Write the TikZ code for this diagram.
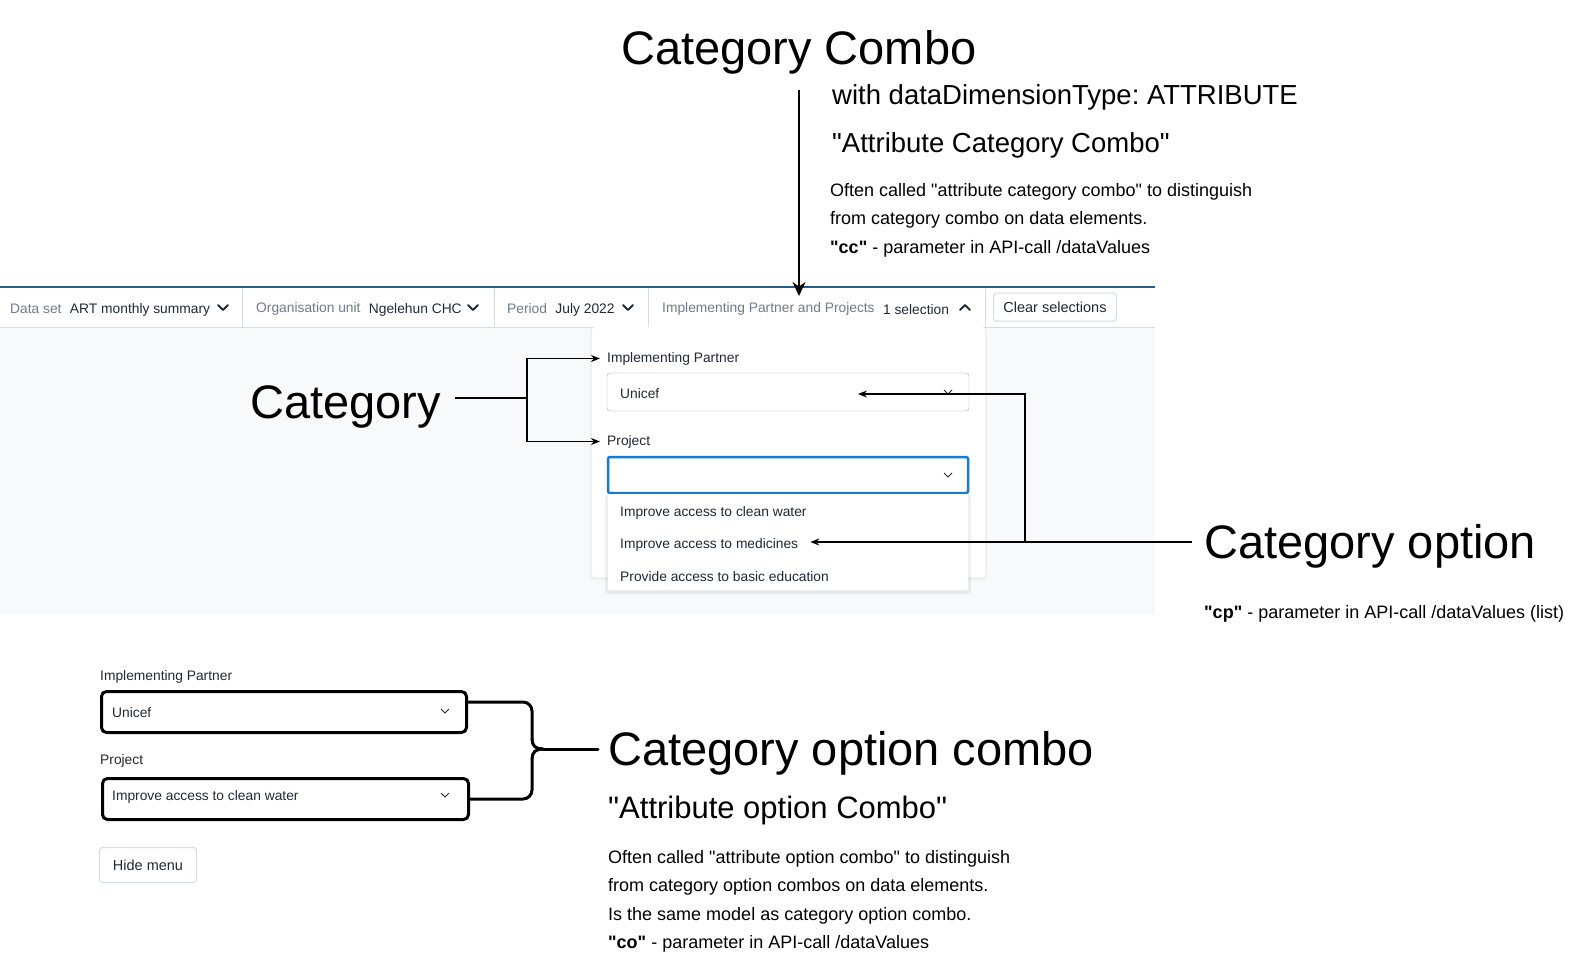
\documentclass[tikz,border=0pt]{standalone}
\usepackage{fontspec}
\setmainfont{Liberation Sans}[Ligatures=TeXOff]
\usetikzlibrary{positioning}
\usetikzlibrary{arrows.meta}
\definecolor{barblue}{RGB}{40,92,138}
\definecolor{uigrey}{RGB}{110,122,138}
\definecolor{uitext}{RGB}{33,41,52}
\definecolor{linegrey}{RGB}{214,220,228}
\definecolor{bggrey}{RGB}{248,249,250}
\definecolor{focusblue}{RGB}{20,124,215}
\definecolor{inputgrey}{RGB}{160,173,186}
\frenchspacing

\begin{document}
\begin{tikzpicture}[x=1pt,y=-1pt,>={Stealth[length=9pt,width=7pt]},
  title/.style={font=\fontsize{47}{50}\selectfont,anchor=west,inner sep=0pt,yshift=-4pt},
  subtitle/.style={font=\fontsize{27.5}{30}\selectfont,anchor=west,inner sep=0pt,yshift=-2pt},
  note/.style={font=\fontsize{18}{21}\selectfont,anchor=west,inner sep=0pt,yshift=-2pt},
  ui/.style={font=\fontsize{13.8}{16}\selectfont,text=uitext,anchor=west,inner sep=0pt,yshift=-1.5pt},
  uilbl/.style={ui,text=uigrey},
  btn/.style={draw=linegrey,line width=1pt,rounded corners=3pt,fill=white,
    font=\fontsize{14.5}{16}\selectfont,text=uitext,inner sep=0pt},
  chev/.style={uitext,line width=1.8pt,line cap=round,line join=round},
  minichev/.style={uitext,line width=0.8pt},
  selbox/.style={draw,line width=3pt,rounded corners=5pt,anchor=north west,inner sep=0pt},
  brace/.style={line width=3pt,line join=round,line cap=round},
  annot/.style={line width=1.1pt}]
\useasboundingbox (0,0) rectangle (1591,977);

%top bar
\fill[bggrey] (0,327) rectangle (1155,614);
\draw[barblue,line width=2pt] (0,287) -- (1155,287);
\draw[linegrey] (0,327) -- (1155,327);
\foreach \x in {242,494,648,985} \draw[linegrey] (\x,288) -- (\x,327);

\node[uilbl] (ds) at (10,307) {Data set};
\node[ui,right=8pt of ds,yshift=0pt] (dsval) {ART monthly summary};
\draw[chev] (218,305) -- (223,310) -- (228,305);
\node[uilbl] (ou) at (256,307) {Organisation unit};
\node[ui,right=8pt of ou,yshift=0pt] (ouval) {Ngelehun CHC};
\draw[chev] (468,305) -- (473,310) -- (478,305);
\node[uilbl] (pe) at (507,307) {Period};
\node[ui,right=8pt of pe,yshift=0pt] (peval) {July 2022};
\draw[chev] (623,305) -- (628,310) -- (633,305);
\node[uilbl] (ipp) at (662,307) {Implementing Partner and Projects};
\node[ui,right=8pt of ipp,yshift=0pt] (ippval) {1 selection};
\draw[chev] (960,310) -- (965,305) -- (970,310);
\node[btn,minimum width=123pt,minimum height=28pt] (clear) at (1055,307) {Clear selections};

%open panel
\fill[black,opacity=0.04,rounded corners=4pt] (590,327) rectangle (987,580);
\fill[white,rounded corners=3pt] (592,327) rectangle (985,577);
\node[ui] (iplbl) at (607,357) {Implementing Partner};
\draw[inputgrey,fill=white,rounded corners=3pt] (607,373) rectangle (969,411);
\node[ui] (unicef) at (620,392) {Unicef};
\draw[minichev] (944,390) -- (948,394) -- (952,390);
\node[ui] (prlbl) at (607,440) {Project};
\draw[focusblue,line width=2.5pt,rounded corners=2pt] (608,457) rectangle (968,493);
\draw[minichev] (944,473) -- (948,477) -- (952,473);

%option list
\fill[black,opacity=0.06,rounded corners=4pt] (605,494) rectangle (971,594);
\fill[white,rounded corners=2pt] (608,494) rectangle (968,590);
\node[ui] (opt1) at (620,511) {Improve access to clean water};
\node[ui] (opt2) at (620,543) {Improve access to medicines};
\node[ui] (opt3) at (620,575) {Provide access to basic education};

%category combo
\node[title] (ccomb) at (621,48) {Category Combo};
\node[subtitle] (ccdim) at (832,95) {with dataDimensionType: ATTRIBUTE};
\node[subtitle] (ccattr) at (832,143) {"Attribute Category Combo"};
\node[note] (ccn1) at (830,190) {Often called "attribute category combo" to distinguish};
\node[note] (ccn2) at (830,218) {from category combo on data elements.};
\node[note] (ccn3) at (830,247) {\textbf{"cc"} - parameter in API-call /dataValues};
\coordinate (ccTop) at (799,90);
\coordinate (ccTip) at (799,296);
\draw[annot,->,>={Stealth[length=14pt,width=13pt]}] (ccTop) -- (ccTip);

%category
\node[title] (cat) at (250,403) {Category};
\coordinate (catJ) at (527,398);
\draw[annot] ([xshift=14pt]cat.east |- catJ) -- (catJ);
\draw[annot,->,shorten >=7pt] (catJ) |- (iplbl.west);
\draw[annot,->,shorten >=7pt] (catJ) |- (prlbl.west);

%category option
\node[title] (copt) at (1204,542) {Category option};
\node[note] (coptn) at (1204,612) {\textbf{"cp"} - parameter in API-call /dataValues (list)};
\coordinate (coJ) at (1025,542);
\coordinate (coTip) at (858,394);
\draw[annot,->,shorten >=12pt] ([xshift=-12pt]copt.west |- coJ) -- (opt2.east |- coJ);
\draw[annot,->] (coJ) |- (coTip);

%category option combo
\node[ui] (iplbl2) at (100,675) {Implementing Partner};
\node[selbox,minimum width=365pt,minimum height=41pt] (selA) at (100,690) {};
\node[ui] at (112,711) {Unicef};
\draw[minichev] (441,709) -- (445,713) -- (449,709);
\node[ui] (prlbl2) at (100,759) {Project};
\node[selbox,minimum width=366pt,minimum height=41pt] (selB) at (101,777) {};
\node[ui] at (112,795) {Improve access to clean water};
\draw[minichev] (441,793) -- (445,797) -- (449,793);
\node[btn,minimum width=97pt,minimum height=35pt] (hide) at (148,865) {Hide menu};

\node[title] (coc) at (608,749) {Category option combo};
\node[subtitle,font=\fontsize{31}{34}\selectfont] (cocattr) at (608,808) {"Attribute option Combo"};
\node[note] (cocn1) at (608,857) {Often called "attribute option combo" to distinguish};
\node[note] (cocn2) at (608,885) {from category option combos on data elements.};
\node[note] (cocn3) at (608,914) {Is the same model as category option combo.};
\node[note] (cocn4) at (608,942) {\textbf{"co"} - parameter in API-call /dataValues};
\coordinate (bkJ) at (543,749);
\draw[brace,rounded corners=9pt] ([yshift=10pt]selA.east) -| (532,739);
\draw[brace,rounded corners=9pt] (selB.east) -| (532,759);
\draw[brace] (532,739) .. controls (532,746) and (536,749) .. (bkJ);
\draw[brace] (532,759) .. controls (532,752) and (536,749) .. (bkJ);
\draw[brace] (bkJ) -- ([xshift=-10pt]coc.west |- bkJ);
\end{tikzpicture}
\end{document}
